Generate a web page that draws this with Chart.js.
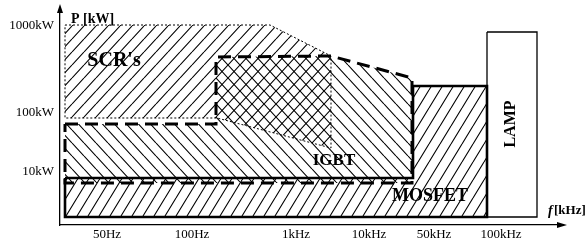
<!DOCTYPE html>
<html>
<head>
<meta charset="utf-8">
<style>
  html, body { margin: 0; padding: 0; background: #fff; }
  .wrap { width: 588px; height: 240px; position: relative; }
</style>
<script src="https://cdn.jsdelivr.net/npm/chart.js@4"></script>
</head>
<body>
<div class="wrap"><canvas id="chart"></canvas></div>
<script>
// axis ticks (x = frequency position units, y = power position units)
var freqLabels = ['50Hz', '100Hz', '1kHz', '10kHz', '50kHz', '100kHz'];
var freqTicks = [47, 132, 236, 309, 374, 441];
var powerLabels = ['10kW', '100kW', '1000kW'];
var powerTicks = [52, 111, 198];

// operating regions, outline vertices
var scrX = [5, 210, 271, 271, 157, 5, 5];
var scrY = [199, 199, 168, 76, 106, 106, 199];
var igbtX = [5, 156, 156, 271, 352, 352, 352, 5, 5];
var igbtY = [100, 100, 167, 168, 146, 142, 41, 41, 100];
var mosfetX = [5, 353, 353, 427, 427, 5, 5];
var mosfetY = [46, 46, 138, 138, 7, 7, 46];
var lampX = [427, 477, 477, 427, 427];
var lampY = [192, 192, 7, 7, 192];

function pts(xs, ys) {
  return xs.map(function(x, i) { return { x: x, y: ys[i] }; });
}

// diagonal hatch pattern; dir 1 = '/', -1 = '\'
function hatch(w, h, dir) {
  var c = document.createElement('canvas');
  c.width = w; c.height = h;
  var g = c.getContext('2d');
  g.strokeStyle = '#000'; g.lineWidth = 1.1;
  g.beginPath();
  for (var k = -1; k <= 1; k++) {
    if (dir > 0) { g.moveTo(k * w, h); g.lineTo(k * w + w, 0); }
    else { g.moveTo(k * w, 0); g.lineTo(k * w + w, h); }
  }
  g.stroke();
  return g.createPattern(c, 'repeat');
}

var serif = "'Liberation Serif', 'DejaVu Serif', serif";

var labelsPlugin = {
  id: 'regionLabels',
  beforeDraw: function(chart) {
    var ctx = chart.ctx, xs = chart.scales.x, ys = chart.scales.y;
    ctx.save();
    ctx.fillStyle = '#000';
    ctx.textAlign = 'center'; ctx.textBaseline = 'middle';
    ctx.font = 'bold 20px ' + serif;
    ctx.fillText("SCR's", xs.getPixelForValue(54), ys.getPixelForValue(163));
    ctx.font = 'bold 17px ' + serif;
    ctx.fillText('IGBT', xs.getPixelForValue(274), ys.getPixelForValue(63));
    ctx.font = 'bold 18px ' + serif;
    ctx.fillText('MOSFET', xs.getPixelForValue(370), ys.getPixelForValue(28));
    ctx.translate(xs.getPixelForValue(451), ys.getPixelForValue(100));
    ctx.rotate(-Math.PI / 2);
    ctx.font = 'bold 16px ' + serif;
    ctx.fillText('LAMP', 0, 0);
    ctx.restore();
  },
  afterDraw: function(chart) {
    var ctx = chart.ctx, a = chart.chartArea;
    ctx.save();
    ctx.fillStyle = '#000';
    // arrow heads
    ctx.beginPath();
    ctx.moveTo(a.left, a.top - 5); ctx.lineTo(a.left - 3, a.top + 4); ctx.lineTo(a.left + 3, a.top + 4);
    ctx.closePath(); ctx.fill();
    ctx.beginPath();
    ctx.moveTo(a.right + 4, a.bottom); ctx.lineTo(a.right - 6, a.bottom - 3); ctx.lineTo(a.right - 6, a.bottom + 3);
    ctx.closePath(); ctx.fill();
    // axis titles
    ctx.textBaseline = 'middle';
    ctx.textAlign = 'left';
    ctx.font = 'bold 14px ' + serif;
    ctx.fillText('P [kW]', a.left + 11, a.top + 10);
    ctx.font = 'bold italic 14px ' + serif;
    ctx.fillText('f', a.right - 15, a.bottom - 14);
    ctx.font = 'bold 13px ' + serif;
    ctx.fillText('[kHz]', a.right - 9, a.bottom - 14);
    ctx.restore();
  }
};

new Chart(document.getElementById('chart'), {
  type: 'scatter',
  data: {
    datasets: [
      { data: pts(igbtX, igbtY), showLine: true, fill: 'shape', backgroundColor: hatch(12, 13, -1),
        borderColor: '#000', borderWidth: 3, borderDash: [13, 7], pointRadius: 0, tension: 0 },
      { data: pts(scrX, scrY), showLine: true, fill: 'shape', backgroundColor: hatch(12, 13, 1),
        borderColor: '#000', borderWidth: 1, borderDash: [2, 2], pointRadius: 0, tension: 0 },
      { data: pts(mosfetX, mosfetY), showLine: true, fill: 'shape', backgroundColor: hatch(11, 18, 1),
        borderColor: '#000', borderWidth: 2.6, pointRadius: 0, tension: 0 },
      { data: pts(lampX, lampY), showLine: true, fill: false,
        borderColor: '#000', borderWidth: 1.3, pointRadius: 0, tension: 0 }
    ]
  },
  options: {
    responsive: true, maintainAspectRatio: false, animation: false,
    layout: { padding: { top: 9, right: 25, left: 0, bottom: 0 } },
    plugins: {
      legend: { display: false }, tooltip: { enabled: false },
      filler: { drawTime: 'beforeDatasetsDraw' }
    },
    scales: {
      x: {
        type: 'linear', min: 0, max: 503,
        grid: { display: false, drawTicks: false },
        border: { display: true, color: '#000', width: 1.3 },
        afterBuildTicks: function(s) { s.ticks = freqTicks.map(function(v) { return { value: v }; }); },
        afterFit: function(s) { s.height = 15; s.paddingLeft = 0; s.paddingRight = 0; },
        ticks: {
          color: '#000', padding: 2, maxRotation: 0, autoSkip: false,
          font: { family: serif, size: 13 },
          callback: function(v, i) { return freqLabels[i]; }
        }
      },
      y: {
        type: 'linear', min: -1, max: 215,
        grid: { display: false, drawTicks: false },
        border: { display: true, color: '#000', width: 1.3 },
        afterBuildTicks: function(s) { s.ticks = powerTicks.map(function(v) { return { value: v }; }); },
        afterFit: function(s) { s.width = 60; s.paddingTop = 0; s.paddingBottom = 0; },
        ticks: {
          color: '#000', padding: 6, autoSkip: false,
          font: { family: serif, size: 13 },
          callback: function(v, i) { return powerLabels[i]; }
        }
      }
    }
  },
  plugins: [labelsPlugin]
});
</script>
</body>
</html>
